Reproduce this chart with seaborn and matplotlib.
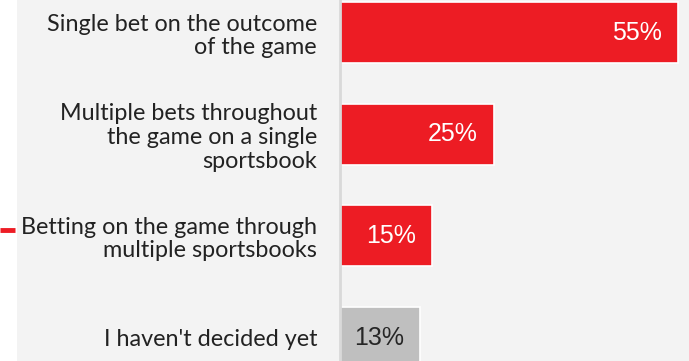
import matplotlib
matplotlib.use("Agg")
import matplotlib.pyplot as plt
import seaborn as sns
import pandas as pd
from matplotlib.patches import Rectangle
from matplotlib.lines import Line2D

categories = [
    "Single bet on the outcome\nof the game",
    "Multiple bets throughout\nthe game on a single\nsportsbook",
    "Betting on the game through\nmultiple sportsbooks",
    "I haven't decided yet",
]
values = [55, 25, 15, 13]
value_labels = ["55%", "25%", "15%", "13%"]
bar_colors = ["#ED1C24", "#ED1C24", "#ED1C24", "#BFBFBF"]
label_colors = ["white", "white", "white", "#262626"]

df = pd.DataFrame({"category": categories, "share": values})

sns.set_theme(style="white")
plt.rcParams["font.family"] = ["Lato", "DejaVu Sans"]

W, H = 689, 361
fig = plt.figure(figsize=(W / 100, H / 100), dpi=100, facecolor="white")

# light panel behind the chart
fig.patches.append(Rectangle((17 / W, 0), 1 - 17 / W, 1, transform=fig.transFigure,
                             facecolor="#F3F3F3", edgecolor="none", zorder=-10))
# small red accent on the left edge
fig.lines.append(Line2D([0, 15 / W], [1 - 230 / H, 1 - 230 / H], transform=fig.transFigure,
                        color="#ED1C24", linewidth=3.5, solid_capstyle="butt", zorder=-5))

ax = fig.add_axes([340 / W, 0, 1 - 340 / W, 1])
ax.set_facecolor("#F3F3F3")
ax.set_zorder(1)

sns.barplot(data=df, x="share", y="category", hue="category", palette=bar_colors,
            saturation=1, legend=False, width=0.6, edgecolor="white", linewidth=1.2, ax=ax)

ax.set_xlim(0, 55 * 349 / 338)
ax.set_ylim(3.23, -0.32)
ax.set_xlabel("")
ax.set_ylabel("")
ax.set_xticks([])

for s in ["top", "right", "bottom"]:
    ax.spines[s].set_visible(False)
ax.spines["left"].set_color("#D9D9D9")
ax.spines["left"].set_linewidth(2)

ax.tick_params(axis="y", which="major", length=0, pad=16.5, labelsize=16.8, labelcolor="#222222")
ax.set_yticks([0.5, 1.5, 2.5], minor=True)
ax.tick_params(axis="y", which="minor", length=5, width=1.5, color="#D9D9D9", direction="out")
for t in ax.get_yticklabels():
    t.set_horizontalalignment("right")
    t.set_linespacing(1.15)

for i, (v, lab) in enumerate(zip(values, value_labels)):
    ax.text(v - 2.6, i, lab, ha="right", va="center", fontsize=18,
            family=["Liberation Sans", "DejaVu Sans"], color=label_colors[i])

fig.savefig("out.png", dpi=100, facecolor=fig.get_facecolor())
